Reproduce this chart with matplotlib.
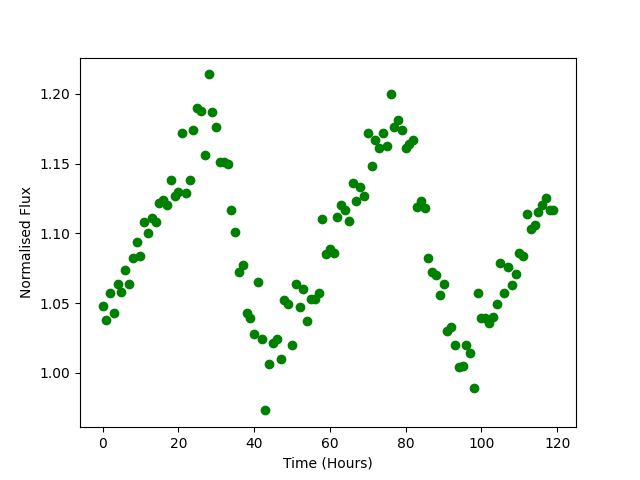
import numpy as np
import matplotlib
matplotlib.use("Agg")
import matplotlib.pyplot as plt

# Zeitpunkte in Stunden (0..119)
time_hours = np.arange(120)

# Normalisierter Fluss
flux = [
    1.048, 1.038, 1.057, 1.043, 1.064, 1.058, 1.074, 1.064, 1.082, 1.094,
    1.084, 1.108, 1.100, 1.111, 1.108, 1.122, 1.124, 1.120, 1.138, 1.127,
    1.130, 1.172, 1.129, 1.138, 1.174, 1.190, 1.188, 1.156, 1.214, 1.187,
    1.176, 1.151, 1.151, 1.150, 1.117, 1.101, 1.072, 1.077, 1.043, 1.039,
    1.028, 1.065, 1.024, 0.973, 1.006, 1.021, 1.024, 1.010, 1.052, 1.049,
    1.020, 1.064, 1.047, 1.060, 1.037, 1.053, 1.053, 1.057, 1.110, 1.085,
    1.089, 1.086, 1.112, 1.120, 1.117, 1.109, 1.136, 1.123, 1.133, 1.127,
    1.172, 1.148, 1.167, 1.161, 1.172, 1.163, 1.200, 1.176, 1.181, 1.174,
    1.161, 1.164, 1.167, 1.119, 1.123, 1.118, 1.082, 1.072, 1.070, 1.056,
    1.064, 1.030, 1.033, 1.020, 1.004, 1.005, 1.020, 1.014, 0.989, 1.057,
    1.039, 1.039, 1.036, 1.040, 1.049, 1.079, 1.057, 1.076, 1.063, 1.071,
    1.086, 1.084, 1.114, 1.103, 1.106, 1.115, 1.120, 1.125, 1.117, 1.117,
]

plt.figure(figsize=(6.4, 4.8), dpi=100)
plt.plot(time_hours, flux, "o", color="green")
plt.xlabel("Time (Hours)")
plt.ylabel("Normalised Flux")
plt.savefig("out.png")
plt.close()
